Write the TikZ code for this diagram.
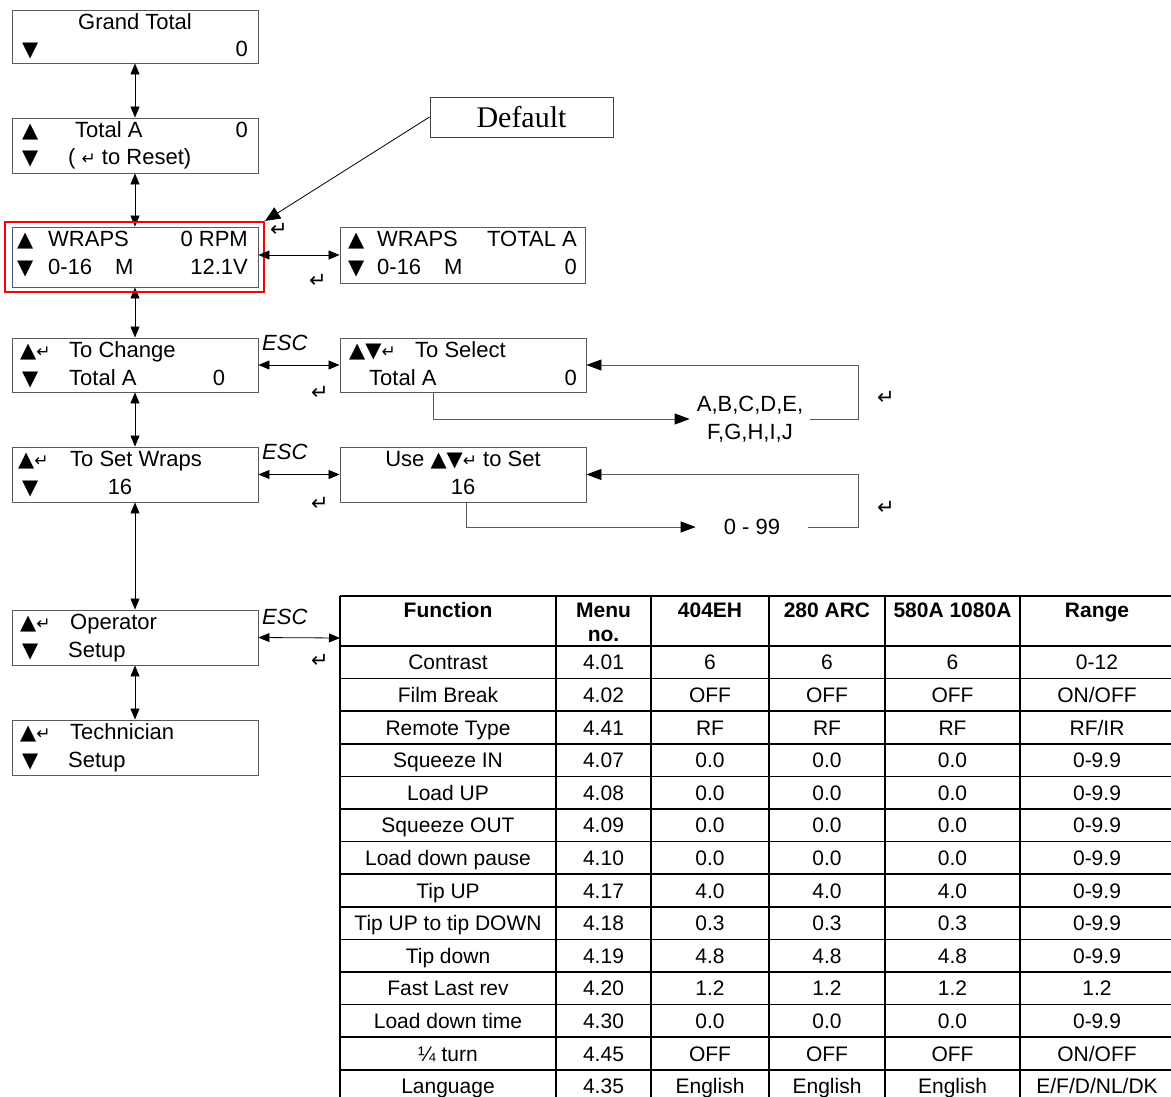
\documentclass[tikz,border=0pt]{standalone}
\usepackage{fontspec}
\setmainfont{Liberation Sans}
\newfontfamily\defserif{Liberation Serif}
\newfontfamily\retfont{DejaVu Sans}
\usetikzlibrary{arrows.meta}
\newcommand\fs[1]{\fontsize{#1}{#1}\selectfont}
\newcommand\rt{{\retfont\fs{17}↵}}
\newcommand\Up{{\retfont\fs{21}▲}}
\newcommand\Dn{{\retfont\fs{21}▼}}
\begin{document}
\begin{tikzpicture}[x=1pt,y=-1pt,
  lcd/.style={draw=black!65,line width=0.9pt,minimum width=246pt,inner sep=0pt},
  t/.style={inner sep=0pt,font=\fs{22}},
  tl/.style={t,anchor=base west},
  tr/.style={t,anchor=base east},
  tcn/.style={t,anchor=base},
  esc/.style={inner sep=0pt,font=\fs{22}\itshape,anchor=west},
  freeret/.style={inner sep=0pt,font=\retfont\fs{21}},
  bi/.style={line width=0.8pt,{Triangle[length=11pt,width=9pt]}-{Triangle[length=11pt,width=9pt]}},
  loopln/.style={line width=0.8pt,draw=black!65},
  looptip/.style={-{Triangle[length=15pt,width=11pt,black]}},
  tline/.style={line width=1.5pt,black},
  cell/.style={inner sep=0pt,font=\fs{21},anchor=base},
  hcell/.style={inner sep=0pt,font=\fs{21}\bfseries,anchor=base},
]
\useasboundingbox (0,0) rectangle (1171,1097);

% ---------- boxes ----------
\node[lcd,minimum height=53pt] (gt) at (135,36.5) {};
\node[lcd,minimum height=55pt] (ta) at (135,145.5) {};
\node[lcd,minimum height=60pt] (wr) at (135,257) {};
\node[lcd,minimum width=245pt,minimum height=56pt] (wt) at (462.5,255) {};
\node[lcd,minimum height=54pt] (tc) at (135,365) {};
\node[lcd,minimum height=54pt] (ts) at (463,365) {};
\node[lcd,minimum height=55pt] (sw) at (135,474.5) {};
\node[lcd,minimum height=55pt] (us) at (463,474.5) {};
\node[lcd,minimum height=55pt] (op) at (135,637.5) {};
\node[lcd,minimum height=55pt] (te) at (135,747.5) {};

% ---------- box texts ----------
\node[tcn] (gt1) at (135,29.5) {Grand Total};
\node[tl] (gt2) at (22,57) {\Dn};
\node[tr] (gt3) at (248,57) {0};

\node[tl] (ta1) at (22,137.5) {\Up};
\node[tl] (ta2) at (75,137.5) {Total A};
\node[tr] (ta3) at (248,137.5) {0};
\node[tl] (ta4) at (22,165) {\Dn};
\node[tl] (ta5) at (68,165) {( \rt\ to Reset)};

\node[tl] (wr1) at (17,246.5) {\Up};
\node[tl] (wr2) at (48,246.5) {WRAPS};
\node[tr] (wr3) at (248,246.5) {0 RPM};
\node[tl] (wr4) at (17,274) {\Dn};
\node[tl] (wr5) at (48,274) {0-16};
\node[tl] (wr6) at (115,274) {M};
\node[tr] (wr7) at (248,274) {12.1V};

\node[tl] (wt1) at (348,246.5) {\Up};
\node[tl] (wt2) at (377,246.5) {WRAPS};
\node[tr] (wt3) at (577,246.5) {TOTAL A};
\node[tl] (wt4) at (348,274) {\Dn};
\node[tl] (wt5) at (377,274) {0-16};
\node[tl] (wt6) at (444,274) {M};
\node[tr] (wt7) at (577,274) {0};

\node[tl] (tc1) at (20,357.5) {\Up\rt};
\node[tl] (tc2) at (69,357.5) {To Change};
\node[tl] (tc3) at (22,385) {\Dn};
\node[tl] (tc4) at (69,385) {Total A};
\node[tcn] (tc5) at (219,385) {0};

\node[tl] (ts1) at (349,357.5) {\Up\Dn\rt};
\node[tl] (ts2) at (415,357.5) {To Select};
\node[tl] (ts3) at (369,385) {Total A};
\node[tr] (ts4) at (577,385) {0};

\node[tl] (sw1) at (18,466.5) {\Up\rt};
\node[tl] (sw2) at (70,466.5) {To Set Wraps};
\node[tl] (sw3) at (22,494) {\Dn};
\node[tcn] (sw4) at (120,494) {16};

\node[tcn] (us1) at (463,466.5) {Use \Up\Dn\rt\ to Set};
\node[tcn] (us2) at (463,494) {16};

\node[tl] (op1) at (20,629.5) {\Up\rt};
\node[tl] (op2) at (70,629.5) {Operator};
\node[tl] (op3) at (22,657) {\Dn};
\node[tl] (op4) at (68,657) {Setup};

\node[tl] (te1) at (20,739.5) {\Up\rt};
\node[tl] (te2) at (70,739.5) {Technician};
\node[tl] (te3) at (22,767) {\Dn};
\node[tl] (te4) at (68,767) {Setup};

% ---------- vertical connectors ----------
\draw[bi] (gt.south) -- (ta.north);
\draw[bi] (ta.south) -- (wr.north);
\draw[bi] (wr.south) -- (tc.north);
\draw[bi] (tc.south) -- (sw.north);
\draw[bi] (sw.south) -- (op.north);
\draw[bi] (op.south) -- (te.north);

% ---------- default highlight ----------
\node[draw=red,line width=2.2pt,minimum width=259pt,minimum height=70pt,inner sep=0pt] (red) at (134.5,257) {};
\node[draw=black!75,line width=0.9pt,minimum width=183pt,minimum height=40pt,inner sep=0pt,font=\defserif\fs{30}] (def) at (521.5,117) {Default};
\draw[line width=0.8pt,-{Triangle[length=15pt,width=13pt]}] (def.west) -- (red.north east);

% ---------- horizontal connectors ----------
\coordinate (tbl) at (340,638);
\draw[bi] (wr.east |- wt.west) -- (wt.west);
\draw[bi] (tc.east) -- (ts.west);
\draw[bi] (sw.east) -- (us.west);
\draw[bi] (op.east) -- (tbl);

\node[esc] (e1) at (262,343) {ESC};
\node[esc] (e2) at (262,452) {ESC};
\node[esc] (e3) at (262,617) {ESC};

\node[freeret] (r1) at (279,230) {↵};
\node[freeret] (r2) at (318,281) {↵};
\node[freeret] (r3) at (320,393) {↵};
\node[freeret] (r4) at (320,504) {↵};
\node[freeret] (r5) at (320,661) {↵};
\node[freeret] (r6) at (886,398) {↵};
\node[freeret] (r7) at (886,508) {↵};

% ---------- selection loops ----------
\node[inner xsep=7pt,inner ysep=0pt,font=\fs{22},align=center] (abc) at (750,419) {A,B,C,D,E,\\[6pt]F,G,H,I,J};
\coordinate (ts0) at (433,392);
\coordinate (c1) at (858,365);
\draw[loopln,looptip] (ts0) |- (abc.west);
\draw[loopln,looptip] (abc.east) -| (c1) -- (ts.east);

\node[inner xsep=28pt,inner ysep=0pt,font=\fs{22}] (rng) at (752,527) {0 - 99};
\coordinate (us0) at (466,502);
\coordinate (c2) at (858,474.5);
\draw[loopln,looptip] (us0) |- (rng.west);
\draw[loopln,looptip] (rng.east) -| (c2) -- (us.east);

% ---------- table ----------
\draw[tline] (340,596) -- (1171,596);
\draw[tline] (340,646) -- (1171,646);
\foreach \k in {1,...,13} {\draw[tline] (340,{646+32.6*\k}) -- (1171,{646+32.6*\k});}
\foreach \x in {340,556,651,769,885,1020} {\draw[tline] (\x,596) -- (\x,1097);}

\node[hcell] (h1) at (448,617) {Function};
\node[hcell] (h2) at (603.5,617) {Menu};
\node[hcell] (h2b) at (603.5,641) {no.};
\node[hcell] (h3) at (710,617) {404EH};
\node[hcell] (h4) at (827,617) {280 ARC};
\node[hcell] (h5) at (952.5,617) {580A 1080A};
\node[hcell] (h6) at (1097,617) {Range};

\newcommand\trow[7]{%
  \node[cell] (a#1) at (448,{669.8+32.6*#1}) {#2};
  \node[cell] (b#1) at (603.5,{669.8+32.6*#1}) {#3};
  \node[cell] (c#1) at (710,{669.8+32.6*#1}) {#4};
  \node[cell] (d#1) at (827,{669.8+32.6*#1}) {#5};
  \node[cell] (f#1) at (952.5,{669.8+32.6*#1}) {#6};
  \node[cell] (g#1) at (1097,{669.8+32.6*#1}) {#7};
}
\trow{0}{Contrast}{4.01}{6}{6}{6}{0-12}
\trow{1}{Film Break}{4.02}{OFF}{OFF}{OFF}{ON/OFF}
\trow{2}{Remote Type}{4.41}{RF}{RF}{RF}{RF/IR}
\trow{3}{Squeeze IN}{4.07}{0.0}{0.0}{0.0}{0-9.9}
\trow{4}{Load UP}{4.08}{0.0}{0.0}{0.0}{0-9.9}
\trow{5}{Squeeze OUT}{4.09}{0.0}{0.0}{0.0}{0-9.9}
\trow{6}{Load down pause}{4.10}{0.0}{0.0}{0.0}{0-9.9}
\trow{7}{Tip UP}{4.17}{4.0}{4.0}{4.0}{0-9.9}
\trow{8}{Tip UP to tip DOWN}{4.18}{0.3}{0.3}{0.3}{0-9.9}
\trow{9}{Tip down}{4.19}{4.8}{4.8}{4.8}{0-9.9}
\trow{10}{Fast Last rev}{4.20}{1.2}{1.2}{1.2}{1.2}
\trow{11}{Load down time}{4.30}{0.0}{0.0}{0.0}{0-9.9}
\trow{12}{¼ turn}{4.45}{OFF}{OFF}{OFF}{ON/OFF}
\trow{13}{Language}{4.35}{English}{English}{English}{E/F/D/NL/DK}
\end{tikzpicture}
\end{document}
